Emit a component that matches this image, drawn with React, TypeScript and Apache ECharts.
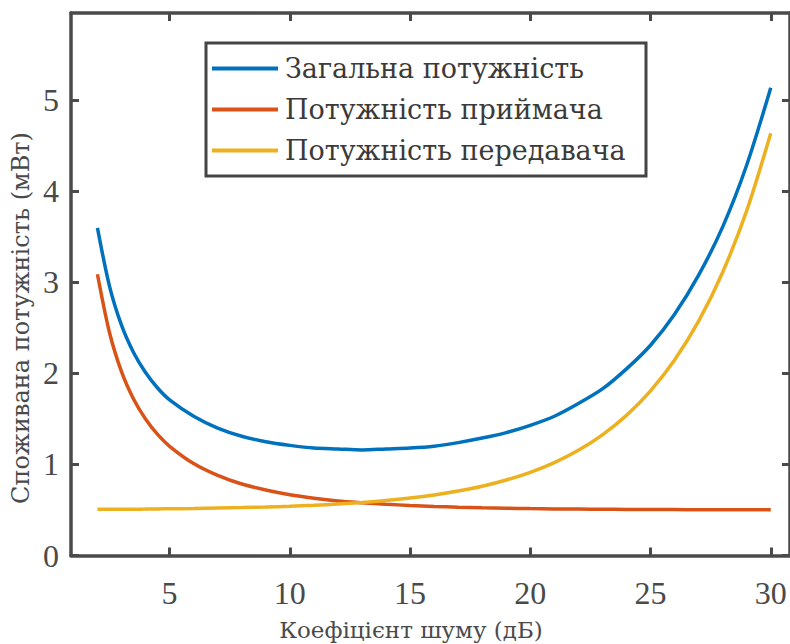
import React, { useEffect, useRef } from "react";
import * as echarts from "echarts";

const noiseFigure = [2, 2.5, 3, 3.5, 4, 4.5, 5, 6, 7, 8, 9, 10, 11, 12, 13, 14, 15, 16, 17, 18, 19, 20, 21, 22, 23, 24, 25, 26, 27, 28, 29, 30];
const totalPower = [3.6, 2.96, 2.53, 2.23, 2.01, 1.84, 1.71, 1.53, 1.4, 1.31, 1.25, 1.21, 1.18, 1.17, 1.16, 1.17, 1.18, 1.2, 1.24, 1.29, 1.35, 1.43, 1.53, 1.67, 1.83, 2.05, 2.31, 2.65, 3.08, 3.61, 4.29, 5.14];
const receiverPower = [3.09, 2.45, 2.02, 1.72, 1.5, 1.33, 1.2, 1.01, 0.88, 0.785, 0.72, 0.668, 0.63, 0.6, 0.58, 0.563, 0.55, 0.539, 0.531, 0.524, 0.519, 0.515, 0.512, 0.51, 0.508, 0.506, 0.505, 0.504, 0.503, 0.502, 0.502, 0.502];
const transmitterPower = [0.507, 0.507, 0.508, 0.509, 0.51, 0.512, 0.513, 0.516, 0.521, 0.526, 0.533, 0.541, 0.552, 0.566, 0.583, 0.604, 0.631, 0.665, 0.708, 0.761, 0.829, 0.914, 1.021, 1.156, 1.326, 1.539, 1.809, 2.148, 2.574, 3.112, 3.789, 4.64];
const seriesNames = ["Загальна потужність", "Потужність приймача", "Потужність передавача"];
const seriesColors = ["#0072BD", "#D95319", "#EDB120"];
const xTicks = [5, 10, 15, 20, 25, 30];
const yTicks = [0, 1, 2, 3, 4, 5];
const xTitle = "Коефіцієнт шуму (дБ)";
const yTitle = "Споживана потужність (мВт)";

const NUM_FONT = "'Liberation Serif', serif";
const CYR_FONT = "'DejaVu Serif', serif";
const AX = "#4a4a4a";

export default function App() {
  const ref = useRef<HTMLDivElement>(null);
  useEffect(() => {
    if (!ref.current) return;
    const chart = echarts.init(ref.current, undefined, { renderer: "svg" });
    const values = [totalPower, receiverPower, transmitterPower];
    const tickCommon = {
      show: true,
      inside: true,
      length: 8,
      lineStyle: { color: AX, width: 3 },
    };
    const xBase = {
      type: "value",
      min: 0.9,
      max: 30.8,
      splitLine: { show: false },
      axisLine: { show: true, onZero: false, lineStyle: { color: AX, width: 3.5 } },
    };
    const yBase = {
      type: "value",
      min: 0,
      max: 5.96,
      splitLine: { show: false },
      axisLine: { show: true, onZero: false, lineStyle: { color: AX, width: 3.5 } },
    };
    chart.setOption({
      animation: false,
      backgroundColor: "#ffffff",
      grid: { left: 71, top: 13, right: -1, bottom: 88.5, containLabel: false },
      legend: {
        orient: "vertical",
        left: 212,
        top: 48,
        padding: 0,
        itemGap: 0,
        itemWidth: 66,
        itemHeight: 4,
        icon: "rect",
        data: seriesNames,
        textStyle: { fontFamily: CYR_FONT, fontSize: 27, color: "#3a3a3a", lineHeight: 41, padding: [0, 0, 0, 2] },
      },
      xAxis: [
        {
          ...xBase,
          position: "bottom",
          axisTick: { ...tickCommon, customValues: xTicks },
          axisLabel: { customValues: xTicks, fontFamily: NUM_FONT, fontSize: 32, color: AX, margin: 21 },
        },
        {
          ...xBase,
          position: "top",
          axisTick: { ...tickCommon, customValues: xTicks },
          axisLabel: { show: false },
        },
      ],
      yAxis: [
        {
          ...yBase,
          position: "left",
          axisTick: { ...tickCommon, customValues: yTicks },
          axisLabel: { customValues: yTicks, fontFamily: NUM_FONT, fontSize: 32, color: AX, margin: 12 },
        },
        {
          ...yBase,
          position: "right",
          axisTick: { ...tickCommon, customValues: yTicks },
          axisLabel: { show: false },
        },
      ],
      graphic: [
        {
          type: "rect",
          shape: { x: 206, y: 43, width: 440, height: 133 },
          style: { fill: "rgba(0,0,0,0)", stroke: "#444444", lineWidth: 3 },
          z: 10,
        },
        {
          type: "text",
          x: 411,
          y: 630,
          style: {
            text: xTitle,
            fontFamily: CYR_FONT,
            fontSize: 23,
            fill: AX,
            textAlign: "center",
            textVerticalAlign: "middle",
          },
        },
        {
          type: "text",
          x: 21,
          y: 318,
          rotation: Math.PI / 2,
          style: {
            text: yTitle,
            fontFamily: CYR_FONT,
            fontSize: 24,
            fill: AX,
            textAlign: "center",
            textVerticalAlign: "middle",
          },
        },
      ],
      series: seriesNames.map((name, i) => ({
        name,
        type: "line",
        xAxisIndex: 0,
        yAxisIndex: 0,
        showSymbol: false,
        smooth: 0.3,
        color: seriesColors[i],
        lineStyle: { width: 3.5, color: seriesColors[i] },
        data: noiseFigure.map((x, j) => [x, values[i][j]]),
      })),
    });
    return () => chart.dispose();
  }, []);
  return (
    <div
      ref={ref}
      style={{ position: "fixed", left: 0, top: 0, width: 790, height: 644, background: "#fff" }}
    />
  );
}
